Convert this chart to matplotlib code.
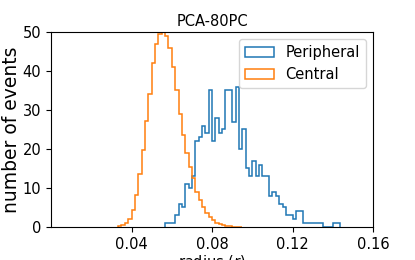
import numpy as np
import matplotlib
matplotlib.use("Agg")
import matplotlib.pyplot as plt

# Bin grid (width 1/600 in radius units)
bin_width = 1.0 / 600
central_first_bin = 20
peripheral_first_bin = 34

central_counts = [0.3, 0.6, 1.0, 2.0, 4.4, 8.3, 13.6, 19.8, 27.3, 34.1,
                  42, 47, 49.5, 50, 49, 46, 41, 35, 29, 23.5,
                  19, 15.5, 12.5, 9, 7, 5, 3.7, 2.5, 1.7, 1.1,
                  0.7, 0.45, 0.3, 0.2, 0.12, 0.08, 0.05]

peripheral_counts = [1, 1, 1, 3, 6, 5, 11, 10, 13, 22,
                     23, 26, 24, 35, 22, 28, 24, 25, 35, 35,
                     27, 36, 20, 25, 15, 13, 17, 13, 16, 13,
                     13, 8, 9, 8, 6, 5, 3, 3, 2, 4,
                     4, 1, 1, 1, 1, 1, 1, 0, 0, 0,
                     1, 1]

xticks = [0.04, 0.08, 0.12, 0.16]
yticks = [0, 10, 20, 30, 40, 50]

def edges(first, n):
    return (first + np.arange(n + 1)) * bin_width

plt.rcParams['font.size'] = 10.5
fig = plt.figure(figsize=(4.15, 2.6), dpi=100)
ax = fig.add_axes([0.123, 0.127, 0.776, 0.75])

pe = edges(peripheral_first_bin, len(peripheral_counts))
ce = edges(central_first_bin, len(central_counts))
ax.hist(pe[:-1], bins=pe, weights=peripheral_counts, histtype='step',
        color='#1f77b4', linewidth=1.1, label='Peripheral')
ax.hist(ce[:-1], bins=ce, weights=central_counts, histtype='step',
        color='#ff7f0e', linewidth=1.1, label='Central')

ax.set_xlim(0, 0.16)
ax.set_ylim(0, 50)
ax.set_xticks(xticks)
ax.set_xticklabels([f"{t:.2f}" for t in xticks])
ax.set_yticks(yticks)
ax.tick_params(labelsize=10.5)
ax.set_title('PCA-80PC', fontsize=10.5, pad=4)
ax.set_xlabel('radius ($r$)', fontsize=10.5, labelpad=1)
ax.set_ylabel('number of events', fontsize=13.5, labelpad=1)
ax.legend(loc='upper right', fontsize=10.5)

fig.savefig('out.png', dpi=100)
